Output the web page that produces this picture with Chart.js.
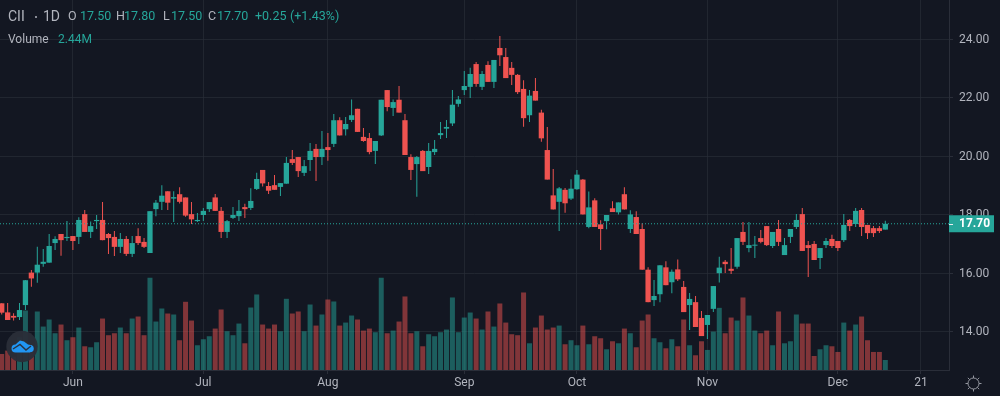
<!DOCTYPE html>
<html>
<head>
<meta charset="utf-8">
<title>CII 1D</title>
<script src="https://cdn.jsdelivr.net/npm/chart.js@4"></script>
<style>
    html, body { margin: 0; padding: 0; background: #131722; }
    canvas { display: block; }
</style>
</head>
<body>
<canvas id="candles" width="1000" height="396"></canvas>
<script>
const opens = [14.98,14.67,14.55,14.51,14.92,16.03,16.03,16.33,16.37,17.04,17.35,17.21,17.28,17.25,18.03,17.42,17.79,17.83,17.35,17.25,
    16.91,17.18,16.67,17.28,17.08,16.70,18.20,18.45,18.81,18.56,18.71,18.60,18.03,17.79,18.00,18.20,18.60,18.14,17.42,17.90,
    17.96,18.27,18.24,18.89,19.54,18.99,19.02,18.96,19.07,19.91,19.98,19.44,19.88,20.26,19.98,20.32,20.43,21.24,20.93,21.25,
    21.63,20.67,20.63,20.19,20.72,22.27,21.66,21.94,21.24,19.98,19.74,20.19,19.64,20.15,20.73,20.95,21.13,21.80,22.27,22.38,
    23.16,22.38,23.13,22.55,23.71,23.40,23.03,22.79,22.31,21.41,22.24,21.50,20.22,18.67,18.45,18.86,18.56,18.88,19.21,17.59,
    18.50,17.68,17.79,18.23,18.09,18.71,17.52,17.93,17.52,16.13,15.09,15.29,16.21,15.70,16.14,15.54,14.92,15.02,14.48,14.24,
    14.79,16.01,16.40,16.16,16.23,17.42,16.87,16.95,17.21,17.62,16.94,17.52,16.63,17.25,17.59,18.03,16.97,17.01,16.53,16.97,
    17.18,17.11,17.14,17.83,17.69,18.17,17.66,17.55,17.55,17.50];
const highs = [14.98,14.99,14.64,14.99,15.78,16.12,16.91,16.84,17.35,17.27,17.35,17.79,17.28,17.92,18.17,17.78,18.00,18.44,17.38,17.45,
    17.38,17.28,17.28,17.55,17.21,18.13,18.51,19.02,18.81,18.81,18.95,18.60,18.44,18.07,18.24,18.44,18.72,18.27,17.83,18.27,
    18.51,18.38,18.91,19.44,19.54,19.13,19.37,19.09,19.98,20.22,19.98,19.88,20.46,20.43,20.87,20.80,21.45,21.34,21.35,21.95,
    21.63,20.97,20.80,20.53,21.94,22.27,21.95,22.41,21.45,20.08,20.02,20.22,20.46,20.56,21.18,21.25,22.27,22.07,22.92,23.03,
    23.23,22.92,23.26,23.30,24.12,23.71,23.23,22.82,22.61,22.27,22.68,21.60,21.01,19.57,18.96,18.92,19.22,19.54,19.23,18.80,
    18.57,17.82,18.00,18.47,18.43,18.95,18.16,18.13,17.72,16.21,15.78,16.28,16.42,16.14,16.48,15.74,15.33,15.23,14.72,14.58,
    15.57,16.57,16.46,16.87,17.21,17.76,17.76,17.28,17.49,17.62,17.42,17.83,17.21,17.52,18.03,18.24,17.11,17.11,16.87,17.21,
    17.32,17.11,18.03,17.86,18.24,18.24,17.66,17.62,17.62,17.80];
const lows = [14.60,14.41,14.39,14.41,14.75,15.55,15.68,16.23,16.37,16.80,16.61,17.11,16.80,17.01,17.42,17.21,17.52,17.14,16.67,16.60,
    16.70,16.60,16.56,16.97,16.87,16.70,17.96,18.17,18.17,17.76,18.39,17.94,17.69,17.76,17.79,18.10,18.14,17.21,17.21,17.86,
    17.79,17.90,18.17,18.85,18.97,18.72,18.86,18.65,19.07,19.71,19.30,19.33,19.50,19.16,19.71,19.85,20.32,20.72,20.72,21.18,
    20.84,20.50,20.08,19.74,20.70,21.55,21.38,21.50,20.05,19.20,18.62,19.50,19.40,20.05,20.60,20.63,21.04,21.70,22.10,22.00,
    22.38,22.27,22.55,22.34,23.09,22.68,22.44,22.14,21.02,21.18,21.91,20.50,19.21,18.19,17.45,18.08,18.51,18.86,18.02,17.55,
    17.59,16.80,17.51,18.10,18.02,18.19,17.38,17.35,16.13,15.02,14.89,15.02,15.60,15.32,15.74,14.68,14.07,14.17,13.86,13.76,
    14.68,15.69,16.02,15.98,16.16,16.97,16.73,16.53,17.03,16.94,16.87,16.94,16.63,17.04,17.52,16.77,15.88,16.46,16.15,16.87,
    16.87,16.77,17.08,17.45,17.59,17.28,17.18,17.25,17.38,17.50];
const closes = [14.66,14.41,14.49,14.75,15.77,15.83,16.30,16.40,16.94,17.18,17.14,17.25,17.11,17.83,17.42,17.62,17.83,17.14,17.21,16.91,
    17.18,16.67,17.04,17.04,16.91,18.13,18.42,18.66,18.42,18.61,18.45,17.98,17.85,17.83,18.14,18.44,18.14,17.42,17.79,18.00,
    18.14,18.20,18.48,19.23,19.08,18.83,18.86,19.09,19.78,19.78,19.50,19.67,20.19,19.98,20.26,20.22,21.24,20.72,21.11,21.41,
    20.84,20.53,20.15,20.53,21.94,21.69,21.86,21.50,20.05,19.54,19.98,19.50,20.19,20.26,20.80,21.01,21.77,21.95,22.41,22.82,
    22.48,22.82,22.55,23.30,23.46,22.68,22.79,22.20,21.31,22.08,21.91,20.62,19.21,18.19,18.91,18.40,18.90,19.38,18.02,18.26,
    17.59,17.52,18.00,18.10,18.43,18.19,18.02,17.35,16.13,15.02,15.23,16.28,15.60,16.06,15.80,14.68,15.13,14.17,13.86,14.58,
    15.57,16.20,16.32,16.09,17.21,17.08,16.97,16.97,17.08,16.97,17.42,17.08,16.97,17.52,17.83,16.77,16.87,16.46,16.87,17.11,
    16.94,16.87,17.66,17.62,18.14,17.59,17.38,17.38,17.45,17.70];
// volume in millions of shares
const volumes = [3.90,4.72,3.25,7.97,14.47,4.72,14.23,10.57,12.28,8.94,11.06,7.24,7.97,10.33,5.77,5.53,6.75,12.52,8.46,8.94,
    10.33,8.94,12.52,13.01,8.46,22.44,11.79,14.96,13.74,13.50,7.24,16.59,12.03,6.02,7.48,8.21,10.08,14.72,9.43,8.46,
    11.30,6.50,15.20,18.37,11.06,10.08,11.06,9.43,17.32,13.74,14.23,9.43,15.93,10.81,13.50,17.15,16.67,10.81,11.54,13.25,
    12.28,9.59,10.08,9.19,22.44,8.94,9.59,11.79,17.89,8.94,9.43,5.77,8.70,8.21,9.19,9.84,17.64,9.19,12.76,13.98,
    12.52,9.84,14.23,10.57,16.18,11.54,8.70,8.46,18.86,6.50,10.33,13.25,9.84,10.33,10.81,6.26,7.24,6.02,10.81,6.26,
    8.21,7.72,5.04,6.99,6.50,10.08,8.94,5.53,12.03,13.50,7.72,6.75,5.28,7.48,5.77,12.28,6.02,3.58,6.99,4.88,
    9.35,15.12,8.94,12.76,12.03,17.64,13.25,9.59,8.94,9.59,6.02,14.23,6.50,6.99,13.50,11.30,11.30,3.41,5.04,6.02,
    5.77,4.39,11.54,9.59,11.06,13.01,7.24,4.39,4.39,2.44];

const priceTicks = [14, 16, 18, 20, 22, 24];
const timeTicks = [12, 34, 55, 78, 97, 119, 141, 155];
const timeLabels = ['Jun', 'Jul', 'Aug', 'Sep', 'Oct', 'Nov', 'Dec', '21'];

const TEAL = '#26a69a';
const RED = '#ef5350';
const TEAL_VOL = 'rgba(38,166,154,0.5)';
const RED_VOL = 'rgba(239,83,80,0.5)';
const GRID = 'rgba(42,46,57,0.65)';
const LINE = '#2a2e39';
const TEXT = '#b2b5be';
const FONT = 'Roboto';

// the x axis runs past the last bar, same as the empty area on the right of the chart
const X_MIN = -0.29;
const X_MAX = 159.74;

const barIndex = opens.map((v, i) => i);
const isUp = opens.map((v, i) => closes[i] >= v);
const lastClose = closes[closes.length - 1];

// legend row, [text, x, colour]
const legendTop = [
    ['O', 68, TEXT], ['17.50', 80, TEAL],
    ['H', 116, TEXT], ['17.80', 124, TEAL],
    ['L', 163, TEXT], ['17.50', 171, TEAL],
    ['C', 208, TEXT], ['17.70', 217, TEAL],
    ['+0.25', 255, TEAL], ['(+1.43%)', 290, TEAL]
];

// Legend, last price tag, logo and the settings icon
const overlay = {
    id: 'overlay',
    afterDraw(chart) {
        const c = chart.ctx;
        const yLast = chart.scales.y.getPixelForValue(lastClose);
        c.save();
        c.textBaseline = 'middle';
        c.textAlign = 'left';

        c.fillStyle = TEXT;
        c.font = '14px ' + FONT;
        c.fillText('CII', 8, 17);
        c.fillText('1D', 43, 17);
        c.beginPath();
        c.arc(36, 17, 1, 0, Math.PI * 2);
        c.fill();
        c.font = '12.5px ' + FONT;
        legendTop.forEach(function (t) {
            c.fillStyle = t[2];
            c.fillText(t[0], t[1], 17);
        });
        c.font = '12px ' + FONT;
        c.fillStyle = TEXT;
        c.fillText('Volume', 8, 40);
        c.fillStyle = TEAL;
        c.fillText('2.44M', 58, 40);

        // last price tag
        c.fillStyle = TEAL;
        c.fillRect(949, yLast - 8.5, 45, 17);
        c.fillStyle = '#e8ebf0';
        c.fillRect(949, Math.round(yLast), 4, 1);
        c.font = 'bold 12px ' + FONT;
        c.fillStyle = '#ffffff';
        c.fillText(lastClose.toFixed(2), 959, yLast + 0.5);

        // logo
        c.fillStyle = 'rgba(42,46,57,0.95)';
        c.beginPath();
        c.arc(22, 346.5, 15.7, 0, Math.PI * 2);
        c.fill();
        c.fillStyle = '#2196f3';
        c.beginPath();
        c.moveTo(15, 352.5);
        c.lineTo(30, 352.5);
        c.arc(30, 348.5, 3.8, Math.PI / 2, -Math.PI / 3, true);
        c.lineTo(28, 344.5);
        c.lineTo(24, 341.5);
        c.lineTo(20, 340.5);
        c.lineTo(16, 344);
        c.arc(15.5, 348.5, 4, -Math.PI / 2, Math.PI / 2, true);
        c.closePath();
        c.fill();
        c.strokeStyle = 'rgba(42,46,57,0.95)';
        c.lineWidth = 1.4;
        c.beginPath();
        c.moveTo(13, 349);
        c.lineTo(20, 344.5);
        c.lineTo(26, 350);
        c.lineTo(31, 346);
        c.stroke();

        // settings icon
        c.strokeStyle = '#9598a1';
        c.lineWidth = 1;
        c.beginPath();
        c.arc(973.5, 383.5, 5.5, 0, Math.PI * 2);
        c.stroke();
        for (let a = 0; a < 8; a++) {
            const ang = a * Math.PI / 4;
            c.beginPath();
            c.moveTo(973.5 + Math.cos(ang) * 5.5, 383.5 + Math.sin(ang) * 5.5);
            c.lineTo(973.5 + Math.cos(ang) * 8, 383.5 + Math.sin(ang) * 8);
            c.stroke();
        }
        c.restore();
    }
};

const ctx = document.getElementById('candles').getContext('2d');

const candleChart = new Chart(ctx, {
    type: 'bar',
    data: {
        labels: barIndex,
        datasets: [
            {
                // last price line
                type: 'line',
                data: [{ x: X_MIN, y: lastClose }, { x: X_MAX, y: lastClose }],
                borderColor: TEAL,
                borderWidth: 1,
                borderDash: [1, 2],
                pointRadius: 0,
                order: 0
            },
            {
                // candle bodies
                data: opens.map((v, i) => [Math.min(v, closes[i]), Math.max(v, closes[i])]),
                backgroundColor: isUp.map(up => up ? TEAL : RED),
                barThickness: 5.3,
                minBarLength: 1,
                inflateAmount: 0,
                order: 1
            },
            {
                // wicks
                data: lows.map((v, i) => [v, highs[i]]),
                backgroundColor: isUp.map(up => up ? TEAL : RED),
                barThickness: 1,
                inflateAmount: 0,
                order: 2
            },
            {
                data: volumes,
                yAxisID: 'volume',
                backgroundColor: isUp.map(up => up ? TEAL_VOL : RED_VOL),
                barThickness: 5,
                inflateAmount: 0,
                order: 3
            }
        ]
    },
    options: {
        responsive: false,
        animation: false,
        events: [],
        grouped: false,
        layout: { padding: 0 },
        plugins: {
            legend: { display: false },
            tooltip: { enabled: false }
        },
        scales: {
            x: {
                type: 'linear',
                bounds: 'data',
                min: X_MIN,
                max: X_MAX,
                offset: false,
                grid: { offset: false, color: GRID, tickColor: LINE, tickLength: 4 },
                border: { color: LINE },
                afterBuildTicks: function (scale) {
                    scale.ticks = timeTicks.map(v => ({ value: v }));
                },
                afterFit: function (scale) {
                    scale.height = 26;
                    scale.paddingLeft = 0;
                    scale.paddingRight = 0;
                },
                ticks: {
                    autoSkip: false,
                    maxRotation: 0,
                    padding: 2,
                    color: TEXT,
                    font: { family: FONT, size: 12 },
                    callback: function (value) {
                        return timeLabels[timeTicks.indexOf(value)];
                    }
                }
            },
            y: {
                position: 'right',
                bounds: 'data',
                min: 12.70,
                max: 25.35,
                grid: { color: GRID, tickColor: LINE, tickLength: 4 },
                border: { color: LINE },
                afterBuildTicks: function (scale) {
                    scale.ticks = priceTicks.map(v => ({ value: v }));
                },
                afterFit: function (scale) {
                    // no room needed above the top tick label, the pane starts at the top edge
                    scale.width = 51;
                    scale.paddingTop = 0;
                    scale.paddingBottom = 0;
                },
                ticks: {
                    padding: 6,
                    labelOffset: 0.5,
                    color: TEXT,
                    font: { family: FONT, size: 12 },
                    callback: function (value) {
                        return value.toFixed(2);
                    }
                }
            },
            volume: {
                display: false,
                min: 0,
                max: 90
            }
        }
    },
    plugins: [overlay]
});
</script>
</body>
</html>
